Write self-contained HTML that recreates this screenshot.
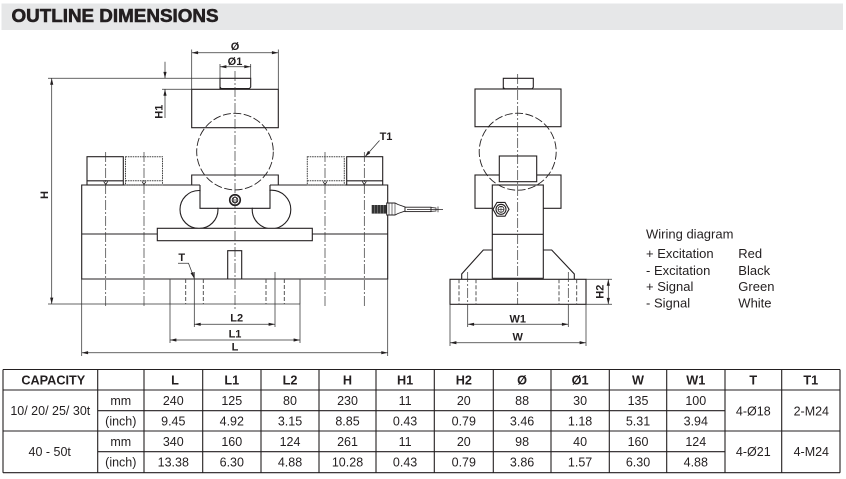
<!DOCTYPE html>
<html><head><meta charset="utf-8">
<style>
html,body{margin:0;padding:0;background:#fff;}
svg{display:block;}
text{font-family:"Liberation Sans",Arial,sans-serif;fill:#231f20;}
</style></head><body>
<svg width="846" height="479" viewBox="0 0 846 479" xmlns="http://www.w3.org/2000/svg">
<defs>
<marker id="ar" viewBox="0 0 8 4" refX="8" refY="2" markerWidth="7" markerHeight="3.2" markerUnits="userSpaceOnUse" orient="auto-start-reverse"><path d="M0,0 L8,2 L0,4 z" fill="#231f20"/></marker>
</defs>

<!-- Header -->
<rect x="1.5" y="3.5" width="841.5" height="26.5" fill="#e6e7e8"/>
<text x="11.5" y="22" font-size="18" font-weight="bold" textLength="207" lengthAdjust="spacingAndGlyphs" stroke="#231f20" stroke-width="0.6">OUTLINE DIMENSIONS</text>

<!-- ================= LEFT VIEW ================= -->
<g fill="none" stroke="#231f20" stroke-width="1.1">
  <!-- body -->
  <path d="M200,185 H81.7 V279 H387.7 V185 H270"/>
  <!-- rollers -->
  <circle cx="199" cy="209.5" r="19"/>
  <circle cx="271.5" cy="209.5" r="19.3"/>
  <rect x="200.6" y="185.6" width="68.8" height="22.1" fill="#fff" stroke="none"/>
  <!-- saddle -->
  <path d="M191.7,185 V175 H278.3 V185 M200,185 V208.3 H270 V185"/>
  <!-- beam -->
  <rect x="157.3" y="228.3" width="155" height="12.4" fill="#fff"/>
  <path d="M81.7,234 H157.3 M312.3,234 H387.7"/>
  <!-- slot -->
  <path d="M227.7,279 V250.7 H241.7 V279"/>
  <!-- top block and cap -->
  <rect x="191.7" y="89.3" width="86.6" height="38.4" fill="#fff"/>
  <path d="M220,89.3 V78.3 H250.7 V87 L249.5,88.6 H221.2 L220,87" fill="#fff"/>
  <!-- bolts -->
  <rect x="87" y="156.7" width="36.3" height="28.3"/>
  <path d="M87,180.8 H123.3"/>
  <rect x="346.7" y="156.7" width="36" height="28.3"/>
  <path d="M346.7,180.8 H382.7"/>
</g>
<g fill="none" stroke="#444" stroke-width="1" stroke-dasharray="1.6 0.8">
  <rect x="125.5" y="156.7" width="37" height="28.3"/>
  <path d="M125.5,180.8 H162.5"/>
  <rect x="307.3" y="156.7" width="37" height="28.3"/>
  <path d="M307.3,180.8 H344.3"/>
</g>
<!-- thread marks -->
<g fill="none" stroke="#231f20" stroke-width="0.8">
  <path d="M103.7,181.5 L105.7,184.5 L107.7,181.5 M142,181.5 L144,184.5 L146,181.5 M323,181.5 L325,184.5 L327,181.5 M362.3,181.5 L364.3,184.5 L366.3,181.5"/>
</g>
<!-- foot -->
<g fill="none" stroke="#444" stroke-width="0.9">
  <path d="M170,279 V304 M300,279 V304"/>
</g>
<g fill="none" stroke="#444" stroke-width="0.9" stroke-dasharray="4 2">
  <path d="M185.7,279 V304 M203.3,279 V304 M266,279 V304 M284.3,279 V304"/>
</g>
<!-- big circle (hidden) -->
<circle cx="235" cy="151.6" r="38.3" fill="none" stroke="#231f20" stroke-width="0.9" stroke-dasharray="8 2.5"/>
<!-- pin nut -->
<circle cx="235" cy="200" r="5.3" fill="#fff" stroke="#231f20" stroke-width="1.6"/>
<circle cx="235" cy="200" r="2.8" fill="none" stroke="#231f20" stroke-width="1"/>
<path d="M233.6,197.5 V202.5 M236.4,197.5 V202.5" stroke="#231f20" stroke-width="0.6"/>
<!-- cable -->
<rect x="371.7" y="205" width="15" height="8.6" fill="#333"/>
<path d="M374.5,205 V213.6 M377.5,205 V213.6 M380.5,205 V213.6 M383.5,205 V213.6" stroke="#888" stroke-width="0.6"/>
<path d="M386.7,203 H395 L398,204.5 L405,207 V211 L398,213.5 L395,215 H386.7 Z" fill="#fff" stroke="#231f20" stroke-width="0.9"/>
<path d="M389,203 V215 M392,203 V215 M395,203 V215" stroke="#231f20" stroke-width="0.6"/>
<rect x="405" y="207.2" width="26" height="4.4" fill="#fff" stroke="#231f20" stroke-width="0.9"/>
<path d="M407,209.4 H438 M431,207.5 L436,208 V211 L431,211.4 M438,206.5 V212.3 M436,209.4 H443" stroke="#231f20" stroke-width="0.7" fill="none"/>

<!-- ================= SIDE VIEW ================= -->
<g fill="none" stroke="#231f20" stroke-width="1.1">
  <path d="M503.3,89 V78.3 H533.3 V87.3 L532,88.8 H504.6 L503.3,87.3" fill="#fff"/>
  <rect x="475" y="89" width="86" height="37.7" fill="#fff"/>
  <rect x="475" y="175" width="86" height="33.3" fill="#fff"/>
  <rect x="499.3" y="156" width="37.4" height="25.7" fill="#fff"/>
  <rect x="492.3" y="185" width="51" height="93.3" fill="#fff"/>
  <path d="M492.3,234.3 H543.3"/>
  <path d="M492.3,250 H483.3 L461.7,274 V279.3 M543.3,250 H551.7 L574.3,274 V279.3"/>
  <rect x="450" y="279.3" width="136" height="25" fill="#fff"/>
</g>
<g fill="none" stroke="#444" stroke-width="0.9" stroke-dasharray="4 2">
  <path d="M459,279.3 V304.3 M476,279.3 V304.3 M559,279.3 V304.3 M576.7,279.3 V304.3"/>
</g>
<circle cx="517.7" cy="151.7" r="38.5" fill="none" stroke="#231f20" stroke-width="0.9" stroke-dasharray="8 2.5"/>
<!-- side nut -->
<polygon points="509,209.3 505,216.2 497,216.2 493,209.3 497,202.4 505,202.4" fill="#fff" stroke="#231f20" stroke-width="1.1"/>
<circle cx="501" cy="209.3" r="5" fill="none" stroke="#231f20" stroke-width="1.1"/>
<circle cx="501" cy="209.3" r="3" fill="none" stroke="#231f20" stroke-width="0.8"/>
<path d="M498,209.3 H504 M501,206.3 V212.3" stroke="#231f20" stroke-width="0.6"/>

<!-- ================= CENTER LINES ================= -->
<g fill="none" stroke="#333" stroke-width="0.7" stroke-dasharray="10 2 2 2">
  <path d="M235,71 V310"/>
  <path d="M105.7,152 V308 M144,152 V308 M325,152 V308 M364.3,152 V308"/>
  <path d="M517.7,74 V305"/>
  <path d="M467.7,272 V304 M568.3,272 V304"/>
</g>

<!-- ================= DIMENSIONS ================= -->
<g fill="none" stroke="#333" stroke-width="0.75">
  <!-- Ø -->
  <path d="M191.7,49.5 V89.3 M278.3,49.5 V89.3"/>
  <path d="M191.7,52.7 H278.3" marker-start="url(#ar)" marker-end="url(#ar)"/>
  <!-- Ø1 -->
  <path d="M220,64 V78.3 M250.7,64 V78.3"/>
  <path d="M220,66.7 H250.7" marker-start="url(#ar)" marker-end="url(#ar)"/>
  <!-- H1 / H -->
  <path d="M48,78.3 H220 M162,89.3 H191.7"/>
  <path d="M165,61.7 V78.3" marker-end="url(#ar)"/>
  <path d="M165,118 V89.3" marker-end="url(#ar)"/>
  <path d="M51.7,78.3 V304" marker-start="url(#ar)" marker-end="url(#ar)"/>
  <path d="M48,304 H300"/>
  <!-- L -->
  <path d="M81.7,279 V356 M387.7,279 V356"/>
  <path d="M81.7,352.7 H387.7" marker-start="url(#ar)" marker-end="url(#ar)"/>
  <!-- L1 -->
  <path d="M170,304 V343 M300,304 V343"/>
  <path d="M170,340 H300" marker-start="url(#ar)" marker-end="url(#ar)"/>
  <!-- L2 -->
  <path d="M194.3,272 V327 M275,272 V327"/>
  <path d="M194.3,324.3 H275" marker-start="url(#ar)" marker-end="url(#ar)"/>
  <!-- T -->
  <path d="M178,263.3 H188.5 L194.3,278.5" marker-end="url(#ar)"/>
  <!-- T1 -->
  <path d="M379.5,140.5 L365,156.7" marker-end="url(#ar)"/>
  <!-- W -->
  <path d="M450,304.3 V346 M586,304.3 V346"/>
  <path d="M450,342.7 H586" marker-start="url(#ar)" marker-end="url(#ar)"/>
  <!-- W1 -->
  <path d="M467.7,304.3 V327 M568.3,304.3 V327"/>
  <path d="M467.7,324.3 H568.3" marker-start="url(#ar)" marker-end="url(#ar)"/>
  <!-- H2 -->
  <path d="M586,279.3 H612 M586,304.3 H612"/>
  <path d="M608.3,279.3 V304.3" marker-start="url(#ar)" marker-end="url(#ar)"/>
</g>

<!-- labels -->
<g font-size="11" font-weight="bold" text-anchor="middle">
  <text x="235" y="50">Ø</text>
  <text x="235" y="65">Ø1</text>
  <text transform="translate(162.3,111.7) rotate(-90)">H1</text>
  <text transform="translate(48,195) rotate(-90)">H</text>
  <text transform="translate(603.3,291.7) rotate(-90)">H2</text>
  <text x="181.7" y="261">T</text>
  <text x="386" y="140">T1</text>
  <text x="236.7" y="321.7">L2</text>
  <text x="235" y="337.3">L1</text>
  <text x="235" y="350.7">L</text>
  <text x="517.7" y="322.3">W1</text>
  <text x="517.7" y="340.7">W</text>
</g>

<!-- wiring diagram -->
<g font-size="13">
  <text x="646" y="238.3">Wiring diagram</text>
  <text x="646" y="258">+ Excitation</text>
  <text x="646" y="275">- Excitation</text>
  <text x="646" y="291">+ Signal</text>
  <text x="646" y="307.7">- Signal</text>
  <text x="738.3" y="258">Red</text>
  <text x="738.3" y="275">Black</text>
  <text x="738.3" y="291">Green</text>
  <text x="738.3" y="307.7">White</text>
</g>

<!-- ================= TABLE ================= -->
<g stroke="#231f20" stroke-width="1.1" fill="none">
  <path d="M3,369.5 H840 M3,390 H840 M3,431 H840 M3,472.7 H840"/>
  <path d="M97.7,410.7 H725 M97.7,451.7 H725"/>
  <path d="M3,369.5 V472.7 M97.7,369.5 V472.7 M144,369.5 V472.7 M202.7,369.5 V472.7 M261,369.5 V472.7 M319,369.5 V472.7 M376,369.5 V472.7 M434.3,369.5 V472.7 M493.3,369.5 V472.7 M551,369.5 V472.7 M609.3,369.5 V472.7 M666.7,369.5 V472.7 M725,369.5 V472.7 M781.7,369.5 V472.7 M840,369.5 V472.7"/>
</g>
<g font-size="12.7" font-weight="bold" text-anchor="middle">
  <text x="53.3" y="384.3">CAPACITY</text>
  <text x="175" y="384.3">L</text>
  <text x="231.8" y="384.3">L1</text>
  <text x="290" y="384.3">L2</text>
  <text x="347.5" y="384.3">H</text>
  <text x="405.1" y="384.3">H1</text>
  <text x="463.8" y="384.3">H2</text>
  <text x="522.1" y="384.3">Ø</text>
  <text x="580.1" y="384.3">Ø1</text>
  <text x="638" y="384.3">W</text>
  <text x="695.8" y="384.3">W1</text>
  <text x="753.3" y="384.3">T</text>
  <text x="810.8" y="384.3">T1</text>
</g>
<g font-size="12.5" text-anchor="middle">
  <text x="50.3" y="415.2">10/ 20/ 25/ 30t</text>
  <text x="49.7" y="456.2">40 - 50t</text>
  <text x="120.8" y="404.8">mm</text>
  <text x="120.8" y="425.3">(inch)</text>
  <text x="120.8" y="445.8">mm</text>
  <text x="120.8" y="466.6">(inch)</text>

  <text x="173.3" y="404.8">240</text>
  <text x="231.8" y="404.8">125</text>
  <text x="290" y="404.8">80</text>
  <text x="347.5" y="404.8">230</text>
  <text x="405.1" y="404.8">11</text>
  <text x="463.8" y="404.8">20</text>
  <text x="522.1" y="404.8">88</text>
  <text x="580.1" y="404.8">30</text>
  <text x="638" y="404.8">135</text>
  <text x="695.8" y="404.8">100</text>

  <text x="173.3" y="425.3">9.45</text>
  <text x="231.8" y="425.3">4.92</text>
  <text x="290" y="425.3">3.15</text>
  <text x="347.5" y="425.3">8.85</text>
  <text x="405.1" y="425.3">0.43</text>
  <text x="463.8" y="425.3">0.79</text>
  <text x="522.1" y="425.3">3.46</text>
  <text x="580.1" y="425.3">1.18</text>
  <text x="638" y="425.3">5.31</text>
  <text x="695.8" y="425.3">3.94</text>

  <text x="173.3" y="445.8">340</text>
  <text x="231.8" y="445.8">160</text>
  <text x="290" y="445.8">124</text>
  <text x="347.5" y="445.8">261</text>
  <text x="405.1" y="445.8">11</text>
  <text x="463.8" y="445.8">20</text>
  <text x="522.1" y="445.8">98</text>
  <text x="580.1" y="445.8">40</text>
  <text x="638" y="445.8">160</text>
  <text x="695.8" y="445.8">124</text>

  <text x="173.3" y="466.6">13.38</text>
  <text x="231.8" y="466.6">6.30</text>
  <text x="290" y="466.6">4.88</text>
  <text x="347.5" y="466.6">10.28</text>
  <text x="405.1" y="466.6">0.43</text>
  <text x="463.8" y="466.6">0.79</text>
  <text x="522.1" y="466.6">3.86</text>
  <text x="580.1" y="466.6">1.57</text>
  <text x="638" y="466.6">6.30</text>
  <text x="695.8" y="466.6">4.88</text>

  <text x="753.3" y="415.5">4-Ø18</text>
  <text x="811.3" y="415.5">2-M24</text>
  <text x="753.3" y="456.2">4-Ø21</text>
  <text x="811.3" y="456.2">4-M24</text>
</g>
</svg>
</body></html>
